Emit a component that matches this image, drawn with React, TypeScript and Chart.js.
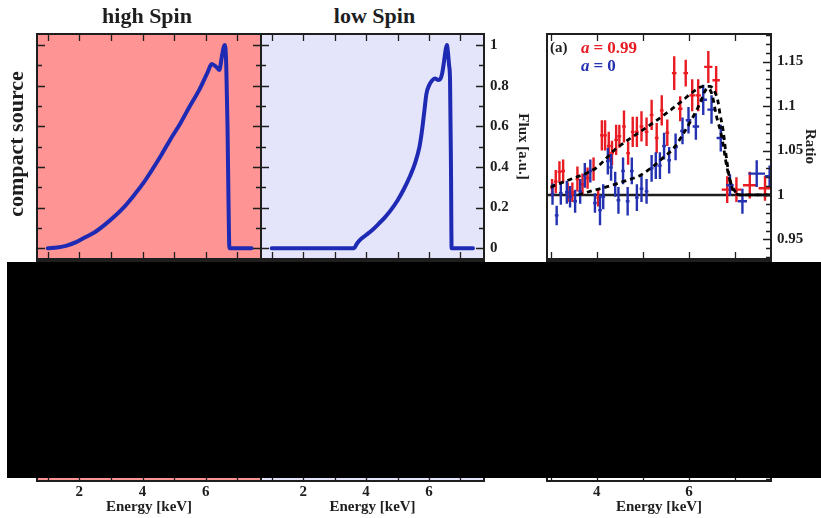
import React, { useEffect, useRef } from 'react';
import { Chart, registerables } from 'chart.js';

Chart.register(...registerables);

// ---------------- data ----------------
// Panel "high Spin": line profile
const energyHigh = [1.0, 1.3, 1.6, 1.9, 2.2, 2.5, 2.8, 3.1, 3.4, 3.7, 4.0, 4.3, 4.6, 4.9, 5.2, 5.5, 5.8, 6.06, 6.19, 6.33, 6.43, 6.51, 6.57, 6.61, 6.65, 6.69, 6.72, 6.75, 7.45];
const fluxHigh = [0, 0.004, 0.013, 0.03, 0.055, 0.08, 0.115, 0.155, 0.2, 0.255, 0.315, 0.385, 0.46, 0.54, 0.615, 0.7, 0.78, 0.865, 0.906, 0.893, 0.877, 0.942, 0.99, 1.0, 0.9, 0.6, 0.25, 0, 0];

// Panel "low Spin": line profile
const energyLow = [1.0, 3.62, 3.7, 3.8, 4.0, 4.2, 4.4, 4.6, 4.8, 5.0, 5.2, 5.4, 5.55, 5.7, 5.78, 5.85, 5.92, 6.0, 6.1, 6.19, 6.3, 6.36, 6.42, 6.48, 6.53, 6.57, 6.6, 6.64, 6.67, 6.7, 6.72, 7.4];
const fluxLow = [0, 0, 0.02, 0.04, 0.065, 0.09, 0.12, 0.152, 0.19, 0.235, 0.29, 0.355, 0.415, 0.5, 0.58, 0.67, 0.76, 0.8, 0.825, 0.835, 0.828, 0.832, 0.86, 0.92, 0.975, 1.0, 0.97, 0.9, 0.83, 0.4, 0, 0];

// Ratio panel: a = 0.99 (red)
const redE = [3.03, 3.11, 3.19, 3.27, 3.37, 3.47, 3.58, 3.69, 3.8, 3.93, 4.03, 4.11, 4.18, 4.26, 4.33, 4.42, 4.49, 4.59, 4.68, 4.78, 4.87, 4.97, 5.08, 5.19, 5.3, 5.41, 5.53, 5.68, 5.81, 5.93, 6.07, 6.2, 6.42, 6.59, 6.83, 7.03, 7.32, 7.65];
const redRatio = [1.008, 1.015, 1.026, 1.027, 1.003, 1.003, 1.018, 1.012, 1.019, 1.029, 0.997, 1.067, 1.067, 1.055, 1.047, 1.062, 1.066, 1.077, 1.047, 1.071, 1.071, 1.077, 1.071, 1.09, 1.064, 1.095, 1.07, 1.137, 1.097, 1.137, 1.112, 1.112, 1.144, 1.129, 1.006, 1.006, 1.011, 1.0075];
const redErr = [0.01, 0.013, 0.012, 0.013, 0.011, 0.011, 0.014, 0.012, 0.012, 0.013, 0.01, 0.017, 0.017, 0.016, 0.014, 0.017, 0.013, 0.018, 0.013, 0.017, 0.017, 0.017, 0.016, 0.017, 0.017, 0.017, 0.015, 0.019, 0.014, 0.015, 0.018, 0.018, 0.018, 0.016, 0.015, 0.014, 0.015, 0.014];
const redXErr = [0.04, 0.04, 0.04, 0.04, 0.04, 0.04, 0.04, 0.04, 0.04, 0.04, 0.04, 0.04, 0.04, 0.04, 0.04, 0.04, 0.04, 0.04, 0.04, 0.04, 0.04, 0.04, 0.04, 0.04, 0.04, 0.04, 0.04, 0.05, 0.05, 0.05, 0.06, 0.06, 0.09, 0.08, 0.12, 0.11, 0.15, 0.14];

// Ratio panel: a = 0 (blue)
const blueE = [3.04, 3.13, 3.22, 3.35, 3.42, 3.53, 3.64, 3.74, 3.86, 3.96, 4.07, 4.14, 4.24, 4.31, 4.4, 4.47, 4.57, 4.67, 4.76, 4.87, 4.97, 5.08, 5.19, 5.28, 5.37, 5.46, 5.57, 5.71, 5.86, 5.99, 6.15, 6.31, 6.49, 6.69, 6.89, 7.16, 7.47, 7.75];
const blueRatio = [1.001, 0.977, 1.002, 1.003, 0.998, 0.993, 1.004, 1.022, 1.027, 0.991, 0.983, 0.998, 1.038, 1.031, 1.012, 0.994, 1.027, 0.993, 1.027, 0.997, 1.007, 1.004, 1.03, 1.033, 1.033, 1.055, 1.039, 1.054, 1.072, 1.084, 1.077, 1.107, 1.096, 1.064, 1.011, 0.993, 1.024, 1.021];
const blueErr = [0.012, 0.011, 0.013, 0.013, 0.012, 0.013, 0.014, 0.014, 0.013, 0.011, 0.017, 0.014, 0.015, 0.015, 0.014, 0.015, 0.015, 0.016, 0.015, 0.015, 0.015, 0.014, 0.015, 0.015, 0.015, 0.015, 0.015, 0.015, 0.015, 0.015, 0.015, 0.017, 0.016, 0.015, 0.012, 0.014, 0.015, 0.012];
const blueXErr = [0.04, 0.04, 0.04, 0.04, 0.04, 0.04, 0.04, 0.04, 0.04, 0.04, 0.04, 0.04, 0.04, 0.04, 0.04, 0.04, 0.04, 0.04, 0.04, 0.04, 0.04, 0.04, 0.04, 0.04, 0.04, 0.04, 0.04, 0.05, 0.05, 0.06, 0.07, 0.08, 0.09, 0.09, 0.08, 0.1, 0.18, 0.1];

// Ratio panel: model curves (dashed)
const modelHighE = [3.0, 3.2, 3.5, 3.8, 4.0, 4.2, 4.35, 4.68, 4.94, 5.3, 5.59, 5.88, 6.09, 6.31, 6.46, 6.56, 6.63, 6.67, 6.74, 6.82, 6.89, 7.0, 7.15, 7.78];
const modelHighR = [1.009, 1.013, 1.019, 1.025, 1.031, 1.041, 1.049, 1.062, 1.071, 1.084, 1.095, 1.107, 1.116, 1.122, 1.122, 1.116, 1.105, 1.092, 1.073, 1.039, 1.017, 1.004, 1.0, 1.0];
const modelLowE = [3.6, 3.85, 4.21, 4.57, 4.94, 5.22, 5.44, 5.66, 5.88, 6.09, 6.24, 6.35, 6.42, 6.5, 6.6, 6.71, 6.82, 6.93, 7.0, 7.15, 7.78];
const modelLowR = [1.0, 1.004, 1.009, 1.015, 1.022, 1.032, 1.042, 1.052, 1.069, 1.088, 1.103, 1.117, 1.12, 1.113, 1.088, 1.066, 1.032, 1.009, 1.002, 1.0, 1.0];
const unityE = [2.92, 7.78];
const unityR = [1, 1];

// ticks
const fluxTicks = [0, 0.2, 0.4, 0.6, 0.8, 1];
const fluxMinorTicks = [0.1, 0.3, 0.5, 0.7, 0.9];
const energyTicks = [1, 2, 3, 4, 5, 6, 7];
const energyLabels = [2, 4, 6];
const ratioTicks = [0.95, 1, 1.05, 1.1, 1.15];
const ratioMinorTicks = [0.93, 0.94, 0.96, 0.97, 0.98, 0.99, 1.01, 1.02, 1.03, 1.04, 1.06, 1.07, 1.08, 1.09, 1.11, 1.12, 1.13, 1.14, 1.16, 1.17, 1.18];
const ratioEnergyTicks = [3, 4, 5, 6, 7];
const ratioEnergyLabels = [4, 6];

// ---------------- styles ----------------
const SERIF = '"Liberation Serif", "Times New Roman", serif';
const INK = '#1e1e1e';
const LINE_BLUE = 'rgb(30, 42, 180)';
const RED = 'rgb(232, 28, 34)';
const BLUE = 'rgb(36, 50, 178)';
const PINK = 'rgb(255, 148, 148)';
const LAVENDER = 'rgb(228, 228, 250)';

const SPEC_X = { min: 0.66, max: 7.75 };
const SPEC_Y = { min: -0.053, max: 1.054 };
const RAT_X = { min: 2.92, max: 7.78 };
const RAT_Y = { min: 0.928, max: 1.181 };

const tickFont = { family: SERIF, weight: 'bold' as const, size: 15 };

const pts = (xs: number[], ys: number[]) => xs.map((x, i) => ({ x, y: ys[i] }));

// frame: background, border and inward ticks
const framePlugin = {
  id: 'frame',
  beforeDraw(chart: any, _a: any, o: any) {
    const { ctx, chartArea: a } = chart;
    if (o.bg) {
      ctx.save();
      ctx.fillStyle = o.bg;
      ctx.fillRect(a.left, a.top, a.right - a.left, a.bottom - a.top);
      ctx.restore();
    }
  },
  afterDraw(chart: any, _a: any, o: any) {
    const { ctx, chartArea: a } = chart;
    const xs = chart.scales.x;
    const ys = chart.scales.y;
    ctx.save();
    ctx.strokeStyle = INK;
    ctx.lineWidth = 1.3;
    ctx.beginPath();
    const xt = (vals: number[], len: number) => {
      (vals || []).forEach((v) => {
        const p = Math.round(xs.getPixelForValue(v)) + 0.5;
        if (o.top) { ctx.moveTo(p, a.top); ctx.lineTo(p, a.top + len); }
        if (o.bottom) { ctx.moveTo(p, a.bottom); ctx.lineTo(p, a.bottom - len); }
      });
    };
    const yt = (vals: number[], len: number) => {
      (vals || []).forEach((v) => {
        const p = Math.round(ys.getPixelForValue(v)) + 0.5;
        if (p < a.top || p > a.bottom) return;
        if (o.left) { ctx.moveTo(a.left, p); ctx.lineTo(a.left + len, p); }
        if (o.right) { ctx.moveTo(a.right, p); ctx.lineTo(a.right - len, p); }
      });
    };
    xt(o.xMajor, 7);
    yt(o.yMajor, 8);
    yt(o.yMinor, 5);
    ctx.stroke();
    ctx.lineWidth = 2;
    ctx.strokeRect(a.left, a.top, a.right - a.left, a.bottom - a.top);
    ctx.restore();
  },
};

// error bars for ratio data
const errSeries: Record<string, { e: number[]; r: number[]; err: number[]; xerr: number[]; color: string }> = {
  'a = 0.99': { e: redE, r: redRatio, err: redErr, xerr: redXErr, color: RED },
  'a = 0': { e: blueE, r: blueRatio, err: blueErr, xerr: blueXErr, color: BLUE },
};

const errorBarPlugin = {
  id: 'errbars',
  afterDatasetDraw(chart: any, args: any) {
    const ds = chart.data.datasets[args.index];
    const s = errSeries[ds.label];
    if (!s) return;
    const { ctx, chartArea: a } = chart;
    const xs = chart.scales.x;
    const ys = chart.scales.y;
    ctx.save();
    ctx.beginPath();
    ctx.rect(a.left, a.top, a.right - a.left, a.bottom - a.top);
    ctx.clip();
    ctx.strokeStyle = s.color;
    ctx.lineWidth = 2.4;
    ctx.beginPath();
    s.e.forEach((e, i) => {
      const px = xs.getPixelForValue(e);
      const py = ys.getPixelForValue(s.r[i]);
      ctx.moveTo(px, ys.getPixelForValue(s.r[i] - s.err[i]));
      ctx.lineTo(px, ys.getPixelForValue(s.r[i] + s.err[i]));
      ctx.moveTo(xs.getPixelForValue(e - s.xerr[i]), py);
      ctx.lineTo(xs.getPixelForValue(e + s.xerr[i]), py);
    });
    ctx.stroke();
    ctx.restore();
  },
};

const hidden = (r: { min: number; max: number }) => ({ type: 'linear', min: r.min, max: r.max, display: false });

const rightAxis = (r: { min: number; max: number }, ticks: number[], title: string) => ({
  type: 'linear',
  position: 'right',
  min: r.min,
  max: r.max,
  grid: { display: false, drawTicks: false },
  border: { display: false },
  afterBuildTicks: (s: any) => { s.ticks = ticks.map((v) => ({ value: v })); },
  afterFit: (s: any) => { s.width = 48; s.paddingTop = 0; s.paddingBottom = 0; },
  ticks: { padding: 6, color: INK, font: tickFont, autoSkip: false, callback: (v: any) => String(v) },
  title: { display: true, text: title, color: INK, font: tickFont, padding: { top: 0, bottom: 0 } },
});

const bottomAxis = (r: { min: number; max: number }, ticks: number[]) => ({
  type: 'linear',
  position: 'bottom',
  min: r.min,
  max: r.max,
  grid: { display: false, drawTicks: false },
  border: { display: false },
  afterBuildTicks: (s: any) => { s.ticks = ticks.map((v) => ({ value: v })); },
  afterFit: (s: any) => { s.height = 37; s.paddingLeft = 0; s.paddingRight = 0; },
  ticks: { padding: 2, color: INK, font: tickFont, autoSkip: false, maxRotation: 0, callback: (v: any) => String(v) },
  title: { display: true, text: 'Energy [keV]', color: INK, font: tickFont, padding: { top: 0, bottom: 2 } },
});

const baseOptions = (padding: any, scales: any, frame: any) => ({
  responsive: false,
  animation: false,
  devicePixelRatio: 1,
  layout: { padding },
  scales,
  plugins: { legend: { display: false }, tooltip: { enabled: false }, frame },
});

const spectrumLine = (xs: number[], ys: number[]) => ({
  data: pts(xs, ys),
  showLine: true,
  borderColor: LINE_BLUE,
  borderWidth: 4,
  pointRadius: 0,
  cubicInterpolationMode: 'monotone',
  borderJoinStyle: 'round',
  borderCapStyle: 'round',
});

const dashed = (label: string, xs: number[], ys: number[], order: number) => ({
  label,
  data: pts(xs, ys),
  showLine: true,
  borderColor: '#000',
  borderWidth: 2.8,
  borderDash: [5, 4],
  pointRadius: 0,
  cubicInterpolationMode: 'monotone',
  order,
});

const configs: Record<string, () => any> = {
  highTop: () => ({
    type: 'scatter',
    data: { datasets: [spectrumLine(energyHigh, fluxHigh)] },
    options: baseOptions(2, { x: hidden(SPEC_X), y: hidden(SPEC_Y) },
      { bg: PINK, top: true, bottom: true, left: true, right: true, xMajor: energyTicks, yMajor: fluxTicks, yMinor: fluxMinorTicks }),
    plugins: [framePlugin],
  }),
  lowTop: () => ({
    type: 'scatter',
    data: { datasets: [spectrumLine(energyLow, fluxLow)] },
    options: baseOptions({ left: 2, top: 2, bottom: 2, right: 0 }, { x: hidden(SPEC_X), y: rightAxis(SPEC_Y, fluxTicks, 'Flux [a.u.]') },
      { bg: LAVENDER, top: true, bottom: true, left: true, right: true, xMajor: energyTicks, yMajor: fluxTicks, yMinor: fluxMinorTicks }),
    plugins: [framePlugin],
  }),
  ratioTop: () => ({
    type: 'scatter',
    data: {
      datasets: [
        { label: 'unity', data: pts(unityE, unityR), showLine: true, borderColor: INK, borderWidth: 2.5, pointRadius: 0, order: 5 },
        { label: 'a = 0.99', data: pts(redE, redRatio), pointRadius: 0, showLine: false, order: 4 },
        { label: 'a = 0', data: pts(blueE, blueRatio), pointRadius: 0, showLine: false, order: 3 },
        dashed('model 0.99', modelHighE, modelHighR, 2),
        dashed('model 0', modelLowE, modelLowR, 1),
      ],
    },
    options: baseOptions({ left: 2, top: 2, bottom: 2, right: 2 }, { x: hidden(RAT_X), y: rightAxis(RAT_Y, ratioTicks, 'Ratio') },
      { bg: '#ffffff', top: true, bottom: true, left: false, right: true, xMajor: ratioEnergyTicks, yMajor: ratioTicks, yMinor: ratioMinorTicks }),
    plugins: [framePlugin, errorBarPlugin],
  }),
  highBottom: () => ({
    type: 'scatter',
    data: { datasets: [] },
    options: baseOptions({ left: 2, top: 2, right: 2, bottom: 0 }, { x: bottomAxis(SPEC_X, energyLabels), y: hidden(SPEC_Y) },
      { bg: PINK, top: true, bottom: true, left: true, right: true, xMajor: energyTicks, yMajor: fluxTicks, yMinor: fluxMinorTicks }),
    plugins: [framePlugin],
  }),
  lowBottom: () => ({
    type: 'scatter',
    data: { datasets: [] },
    options: baseOptions({ left: 2, top: 2, right: 2, bottom: 0 }, { x: bottomAxis(SPEC_X, energyLabels), y: hidden(SPEC_Y) },
      { bg: LAVENDER, top: true, bottom: true, left: true, right: true, xMajor: energyTicks, yMajor: fluxTicks, yMinor: fluxMinorTicks }),
    plugins: [framePlugin],
  }),
  ratioBottom: () => ({
    type: 'scatter',
    data: { datasets: [] },
    options: baseOptions({ left: 2, top: 2, right: 2, bottom: 0 }, { x: bottomAxis(RAT_X, ratioEnergyLabels), y: hidden(RAT_Y) },
      { bg: '#ffffff', top: true, bottom: true, left: false, right: true, xMajor: ratioEnergyTicks, yMajor: ratioTicks, yMinor: ratioMinorTicks }),
    plugins: [framePlugin],
  }),
};

function ChartBox(props: { name: string; left: number; top: number; width: number; height: number }) {
  const ref = useRef<HTMLCanvasElement | null>(null);
  useEffect(() => {
    if (!ref.current) return;
    const chart = new Chart(ref.current, configs[props.name]());
    return () => chart.destroy();
  }, [props.name]);
  return (
    <canvas
      ref={ref}
      width={props.width}
      height={props.height}
      style={{ position: 'absolute', left: props.left, top: props.top, width: props.width, height: props.height }}
    />
  );
}

const label = (style: React.CSSProperties): React.CSSProperties => ({
  position: 'absolute',
  whiteSpace: 'nowrap',
  lineHeight: 1,
  fontFamily: SERIF,
  color: INK,
  ...style,
});

const eq: React.CSSProperties = { margin: '0 4px' };

export default function App() {
  return (
    <div style={{ position: 'absolute', left: 0, top: 0, width: 821, height: 518, overflow: 'hidden', background: '#fff' }}>
      <ChartBox name="highBottom" left={35} top={259} width={228} height={259} />
      <ChartBox name="lowBottom" left={259} top={259} width={227} height={259} />
      <ChartBox name="ratioBottom" left={545} top={259} width={228} height={259} />
      <ChartBox name="highTop" left={35} top={32} width={228} height={229} />
      <ChartBox name="lowTop" left={259} top={32} width={273} height={229} />
      <ChartBox name="ratioTop" left={545} top={32} width={276} height={229} />

      <div style={label({ left: 147, top: 16, transform: 'translate(-50%, -50%)', fontSize: 22, fontWeight: 'bold' })}>high Spin</div>
      <div style={label({ left: 374.5, top: 16, transform: 'translate(-50%, -50%)', fontSize: 22, fontWeight: 'bold' })}>low Spin</div>
      <div style={label({ left: 16, top: 144, transform: 'translate(-50%, -50%) rotate(-90deg)', fontSize: 22, fontWeight: 'bold' })}>compact source</div>

      <div style={label({ left: 550, top: 47, transform: 'translateY(-50%)', fontSize: 15, fontWeight: 'bold' })}>(a)</div>
      <div style={label({ left: 581, top: 47, transform: 'translateY(-50%)', fontSize: 17, color: RED, fontWeight: 'bold' })}><i>a</i><span style={eq}>=</span>0.99</div>
      <div style={label({ left: 581, top: 65, transform: 'translateY(-50%)', fontSize: 17, color: BLUE, fontWeight: 'bold' })}><i>a</i><span style={eq}>=</span>0</div>

      <div style={{ position: 'absolute', left: 7, top: 262, width: 814, height: 216, background: '#000', zIndex: 10 }} />
    </div>
  );
}
